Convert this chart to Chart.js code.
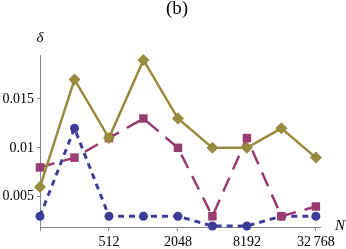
<!DOCTYPE html>
<html>
<head>
<meta charset="utf-8">
<script src="https://cdn.jsdelivr.net/npm/chart.js@4"></script>
<style>
  html, body { margin: 0; padding: 0; background: #fff; }
</style>
</head>
<body>
<canvas id="grafico" width="346" height="249"></canvas>
<script>
// valores
const valoresN = [128, 256, 512, 1024, 2048, 4096, 8192, 16384, 32768];
const serieLosango = [0.006, 0.017, 0.011, 0.019, 0.013, 0.010, 0.010, 0.012, 0.009];
const serieQuadrado = [0.008, 0.009, 0.011, 0.013, 0.010, 0.003, 0.011, 0.003, 0.004];
const serieCirculo = [0.003, 0.012, 0.003, 0.003, 0.003, 0.002, 0.002, 0.003, 0.003];

const ticksX = [128, 512, 2048, 8192, 32768];
const rotulosX = ["", "512", "2048", "8192", "32\u2009768"];
const ticksY = [0.005, 0.01, 0.015];
const rotulosY = ["0.005", "0.01", "0.015"];

const corOliva = "#998B3D";
const corRoxo = "#993D71";
const corAzul = "#3D3D99";
const corEixo = "#8a8a8a";

Chart.defaults.font.family = "'Liberation Serif', 'DejaVu Serif', serif";
Chart.defaults.font.size = 14;
Chart.defaults.color = "#000";

// pontos com x = log2(N)
const pontos = serie => serie.map((v, i) => ({ x: Math.log2(valoresN[i]), y: v }));

// textos extras: (b), delta e N
const textosExtras = {
    id: "textosExtras",
    afterDraw(chart) {
        const ctx = chart.ctx;
        ctx.save();
        ctx.fillStyle = "#000";
        ctx.textBaseline = "alphabetic";
        ctx.textAlign = "center";
        ctx.font = "19px 'Liberation Serif', serif";
        ctx.fillText("(b)", 177, 14);
        ctx.font = "italic 15px 'Liberation Serif', serif";
        ctx.fillText("\u03b4", 40, 42);
        ctx.textAlign = "left";
        ctx.fillText("N", 335, 230);
        ctx.restore();
    }
};

const ctx = document.getElementById("grafico").getContext("2d");
new Chart(ctx, {
    type: "line",
    data: {
        datasets: [
            {
                data: pontos(serieLosango),
                borderColor: corOliva,
                backgroundColor: corOliva,
                borderWidth: 2.5,
                pointStyle: "rectRot",
                pointRadius: 6,
                pointBorderWidth: 0,
                clip: false,
            },
            {
                data: pontos(serieQuadrado),
                borderColor: corRoxo,
                backgroundColor: corRoxo,
                borderWidth: 2.5,
                borderDash: [15, 9],
                pointStyle: "rect",
                pointRadius: 6,
                pointBorderWidth: 0,
                clip: false,
            },
            {
                data: pontos(serieCirculo),
                borderColor: corAzul,
                backgroundColor: corAzul,
                borderWidth: 3,
                borderDash: [6, 5],
                pointStyle: "circle",
                pointRadius: 4.5,
                pointBorderWidth: 0,
                clip: false,
            },
        ],
    },
    options: {
        responsive: false,
        animation: false,
        layout: { padding: { top: 55, right: 26, left: 0, bottom: 0 } },
        plugins: {
            legend: { display: false },
            tooltip: { enabled: false },
        },
        scales: {
            x: {
                type: "linear",
                min: 7,
                max: 15.12,
                afterBuildTicks: s => { s.ticks = ticksX.map(n => ({ value: Math.log2(n) })); },
                afterFit: s => { s.height = 22; },
                ticks: {
                    padding: 3,
                    maxRotation: 0,
                    autoSkip: false,
                    callback: (v, i) => rotulosX[i],
                },
                grid: { drawOnChartArea: false, tickLength: 4, color: corEixo },
                border: { color: corEixo },
            },
            y: {
                min: 0.0019,
                max: 0.0195,
                afterBuildTicks: s => { s.ticks = ticksY.map(v => ({ value: v })); },
                afterFit: s => { s.width = 40; },
                ticks: {
                    padding: 3,
                    autoSkip: false,
                    callback: (v, i) => rotulosY[i],
                },
                grid: { drawOnChartArea: false, tickLength: 3, color: corEixo },
                border: { color: corEixo },
            },
        },
    },
    plugins: [textosExtras],
});
</script>
</body>
</html>
